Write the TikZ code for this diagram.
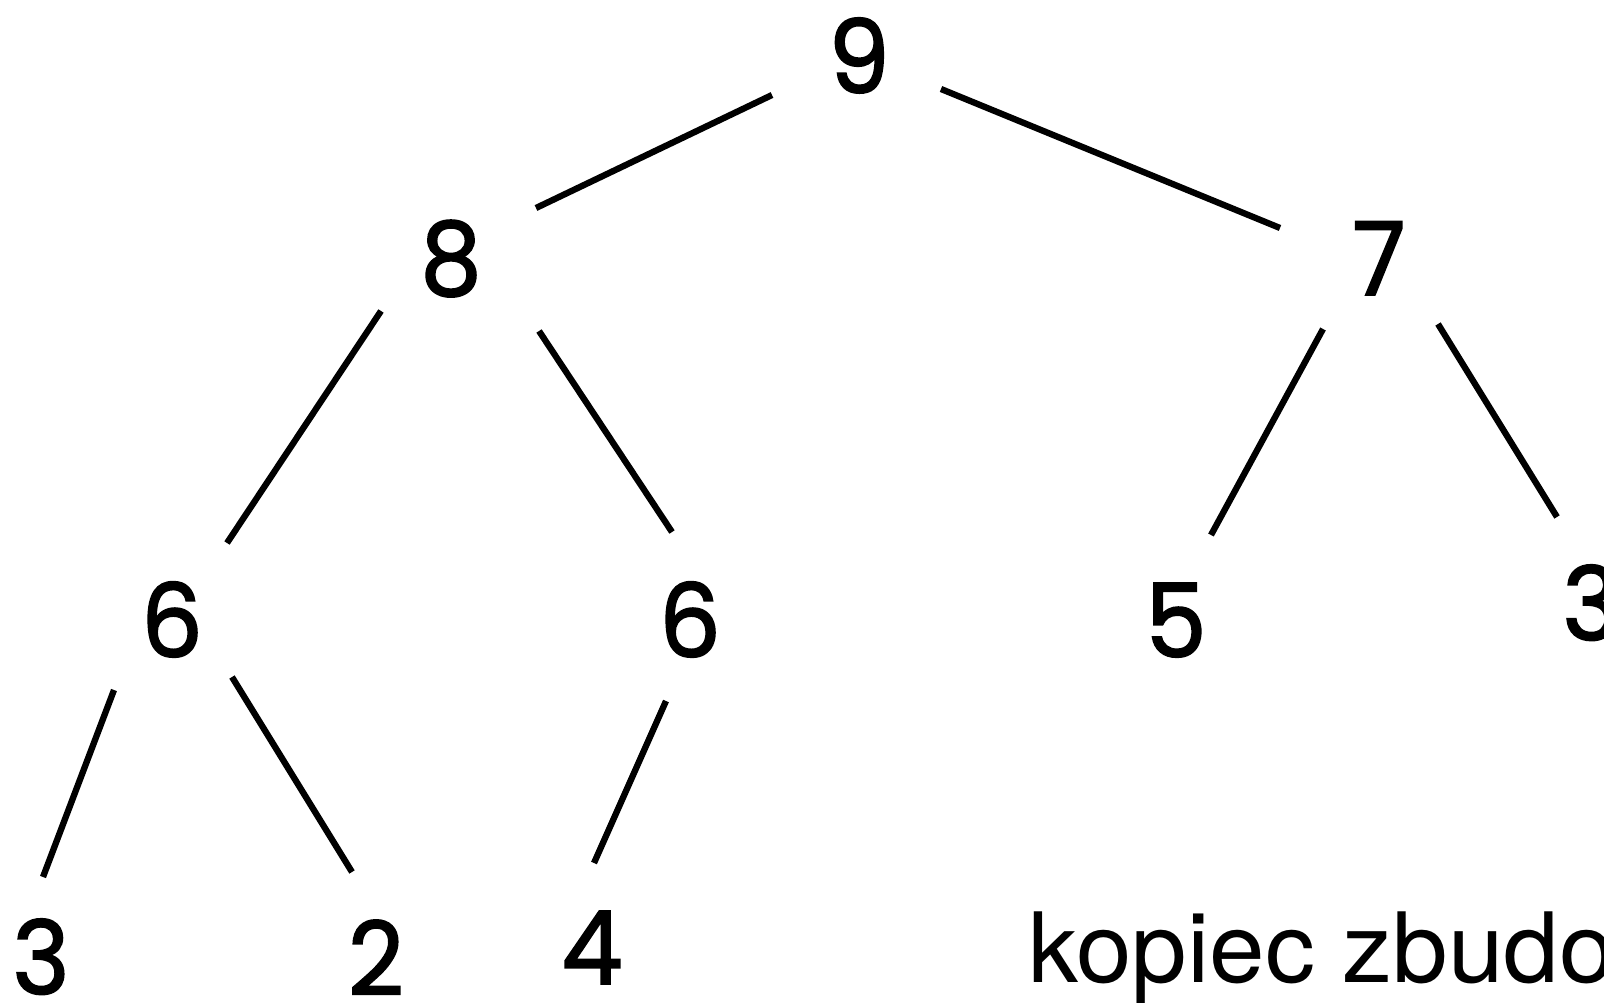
\documentclass[tikz,border=0pt]{standalone}
\usepackage{fontspec}
\setmainfont{TeX Gyre Heros}
\newfontfamily\digitfont{Poppins}[FakeBold=1.8, FakeStretch=0.95]
\newfontfamily\capfont{TeX Gyre Heros}[FakeStretch=1.03]
\usetikzlibrary{calc}
\tikzset{
  key/.style={font=\digitfont\fontsize{102}{102}\selectfont, inner sep=0pt, text height=76pt, text depth=0pt, anchor=center},
  edge/.style={line width=6.3pt, black},
  caption/.style={font=\capfont\fontsize{97}{97}\selectfont, inner sep=0pt, anchor=base west}
}
\begin{document}
\begin{tikzpicture}[x=1pt,y=-1pt]
\useasboundingbox (0,0) rectangle (1604,1003);
\clip (0,0) rectangle (1604,1003);
\node[key] (n9) at (859,55) {9};
\node[key] (n8) at (451,257) {8};
\node[key] (n7) at (1379,257) {7};
\node[key] (n6a) at (172,619) {6};
\node[key] (n6b) at (690,619) {6};
\node[key] (n5) at (1176,619) {5};
\node[key] (n3a) at (1591,602) {3};
\node[key] (n3b) at (41,956) {3};
\node[key] (n2) at (376,957) {2};
\node[key] (n4) at (592,946) {4};
\node[caption] (cap) at (1028,982) {kopiec zbudo};
\draw[edge] ($(n9)+(-87,40)$) -- ($(n8)+(85,-49)$);
\draw[edge] ($(n9)+(82,34)$) -- ($(n7)+(-99,-29)$);
\draw[edge] ($(n8)+(-70,54)$) -- ($(n6a)+(55,-76)$);
\draw[edge] ($(n8)+(88,74)$) -- ($(n6b)+(-18,-87)$);
\draw[edge] ($(n7)+(-56,72)$) -- ($(n5)+(35,-84)$);
\draw[edge] ($(n7)+(59,67)$) -- ($(n3a)+(-34,-85)$);
\draw[edge] ($(n6a)+(-58,71)$) -- ($(n3b)+(2,-79)$);
\draw[edge] ($(n6a)+(60,58)$) -- ($(n2)+(-24,-85)$);
\draw[edge] ($(n6b)+(-24,82)$) -- ($(n4)+(2,-83)$);
\end{tikzpicture}
\end{document}
